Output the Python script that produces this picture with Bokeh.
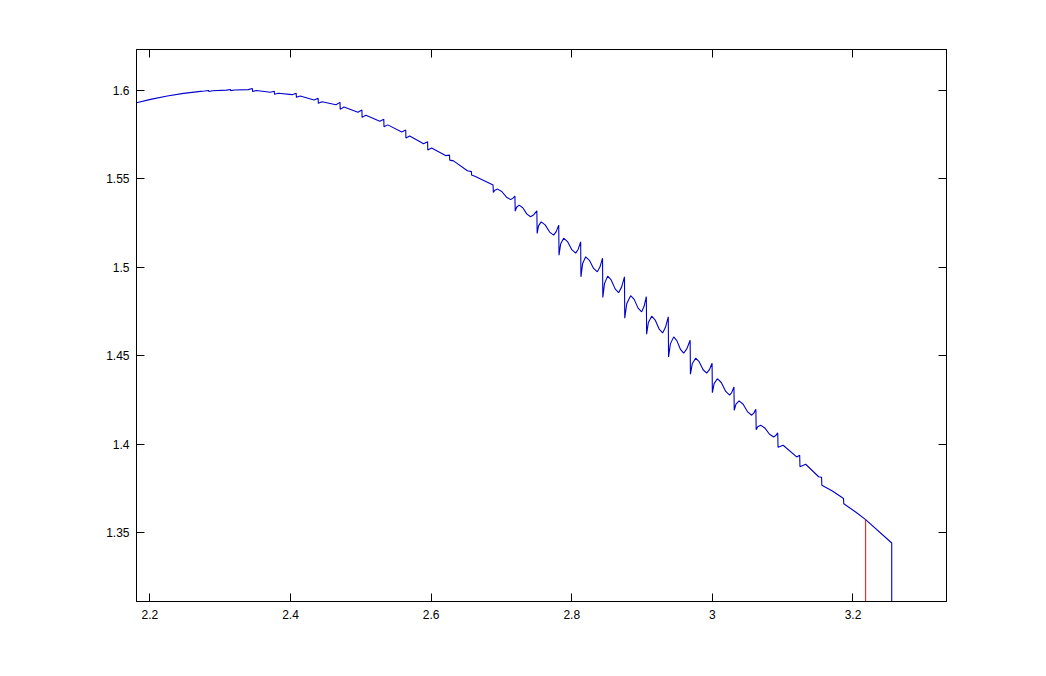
from bokeh.plotting import figure
from bokeh.models import Range1d, LinearAxis, FixedTicker
from bokeh.embed import file_html
from bokeh.resources import INLINE

# ---- data ----
curve_x = [
    2.1811, 2.2010, 2.2248, 2.2479, 2.2721,
    2.2778, 2.2835, 2.2838, 2.2892,
    2.3091, 2.3147, 2.3150, 2.3205,
    2.3401, 2.3458, 2.3461, 2.3515,
    2.3713, 2.3770, 2.3772, 2.3826,
    2.4024, 2.4081, 2.4084, 2.4138,
    2.4336, 2.4393, 2.4396, 2.4449,
    2.4647, 2.4704, 2.4707, 2.4761,
    2.4959, 2.5016, 2.5018, 2.5073,
    2.5270, 2.5327, 2.5330, 2.5384,
    2.5582, 2.5639, 2.5642, 2.5696,
    2.5893, 2.5950, 2.5953, 2.6007,
    2.6205, 2.6262, 2.6265, 2.6319,
    2.6516, 2.6573, 2.6576, 2.6630,
    2.6881, 2.6885, 2.6906, 2.6946, 2.7005, 2.7072, 2.7131, 2.7162,
    2.7192, 2.7196, 2.7216, 2.7252, 2.7304, 2.7363, 2.7415, 2.7460,
    2.7504, 2.7508, 2.7528, 2.7565, 2.7622, 2.7686, 2.7743, 2.7779,
    2.7815, 2.7819, 2.7842, 2.7885, 2.7940, 2.8001, 2.8056, 2.8092,
    2.8127, 2.8131, 2.8154, 2.8198, 2.8251, 2.8311, 2.8364, 2.8401,
    2.8438, 2.8442, 2.8466, 2.8511, 2.8561, 2.8617, 2.8667, 2.8709,
    2.8750, 2.8754, 2.8783, 2.8838, 2.8888, 2.8944, 2.8994, 2.9028,
    2.9061, 2.9065, 2.9090, 2.9137, 2.9187, 2.9243, 2.9293, 2.9333,
    2.9373, 2.9377, 2.9403, 2.9450, 2.9495, 2.9547, 2.9592, 2.9638,
    2.9684, 2.9688, 2.9714, 2.9762, 2.9812, 2.9869, 2.9919, 2.9958,
    2.9996, 3.0000, 3.0025, 3.0071, 3.0127, 3.0190, 3.0246, 3.0277,
    3.0307, 3.0311, 3.0336, 3.0381, 3.0438, 3.0502, 3.0559, 3.0589,
    3.0619, 3.0623, 3.0645, 3.0687, 3.0746, 3.0813, 3.0872, 3.0901,
    3.0930, 3.0934, 3.1007, 3.1199,
    3.1242, 3.1246, 3.1327, 3.1512,
    3.1553, 3.1557, 3.1707, 3.1861,
    3.1865, 3.1869, 3.2038, 3.2180,
    3.2551, 3.2551,
]
curve_y = [
    1.59282, 1.59475, 1.59661, 1.59814, 1.59927,
    1.59949, 1.59977, 1.59921, 1.59960,
    1.59994, 1.60028, 1.59966, 1.60000,
    1.60023, 1.60085, 1.59915, 1.59977,
    1.59876, 1.59932, 1.59763, 1.59819,
    1.59740, 1.59814, 1.59588, 1.59661,
    1.59441, 1.59531, 1.59249, 1.59339,
    1.59175, 1.59305, 1.58910, 1.59040,
    1.58746, 1.58870, 1.58458, 1.58576,
    1.58237, 1.58345, 1.57927, 1.58034,
    1.57627, 1.57740, 1.57288, 1.57401,
    1.56972, 1.57079, 1.56610, 1.56723,
    1.56299, 1.56328, 1.56045, 1.56000,
    1.55441, 1.55396, 1.55198, 1.55124,
    1.54633, 1.54220, 1.54342, 1.54407, 1.54271, 1.53950, 1.53814, 1.53883,
    1.54011, 1.53164, 1.53384, 1.53503, 1.53351, 1.52994, 1.52842, 1.52961,
    1.53181, 1.51904, 1.52330, 1.52559, 1.52386, 1.51981, 1.51808, 1.52006,
    1.52373, 1.50678, 1.51302, 1.51638, 1.51443, 1.50986, 1.50791, 1.51014,
    1.51429, 1.49452, 1.50187, 1.50582, 1.50387, 1.49929, 1.49734, 1.50005,
    1.50508, 1.48288, 1.49071, 1.49492, 1.49277, 1.48774, 1.48559, 1.48872,
    1.49452, 1.47119, 1.47945, 1.48390, 1.48179, 1.47685, 1.47474, 1.47775,
    1.48333, 1.46215, 1.46876, 1.47232, 1.47015, 1.46505, 1.46288, 1.46604,
    1.47192, 1.44932, 1.45667, 1.46062, 1.45850, 1.45353, 1.45141, 1.45398,
    1.45876, 1.43955, 1.44543, 1.44859, 1.44664, 1.44206, 1.44011, 1.44209,
    1.44576, 1.42910, 1.43424, 1.43700, 1.43486, 1.42982, 1.42768, 1.42932,
    1.43237, 1.41921, 1.42262, 1.42446, 1.42260, 1.41824, 1.41638, 1.41757,
    1.41977, 1.40819, 1.40984, 1.41073, 1.40921, 1.40564, 1.40412, 1.40491,
    1.40638, 1.39831, 1.39944, 1.39282,
    1.39378, 1.38729, 1.38870, 1.38164,
    1.38136, 1.37684, 1.37362, 1.36949,
    1.36949, 1.36638, 1.36175, 1.35746,
    1.34424, 1.30,
]
marker_x = [3.2180, 3.2180]
marker_y = [1.35746, 1.30]

x_ticks = [2.2, 2.4, 2.6, 2.8, 3.0, 3.2]
x_tick_labels = ["2.2", "2.4", "2.6", "2.8", "3", "3.2"]
y_ticks = [1.35, 1.40, 1.45, 1.50, 1.55, 1.60]
y_tick_labels = ["1.35", "1.4", "1.45", "1.5", "1.55", "1.6"]

FONT = "Liberation Sans"

p = figure(
    frame_width=810, frame_height=552,
    min_border_left=136, min_border_right=84, min_border_top=49, min_border_bottom=59,
    x_range=Range1d(2.181, 3.333), y_range=Range1d(1.3112, 1.6229),
    output_backend="svg", toolbar_location=None,
    background_fill_color="white", border_fill_color="white",
)
p.xgrid.visible = False
p.ygrid.visible = False
p.outline_line_color = "black"
p.outline_line_width = 1

p.line(curve_x, curve_y, line_color="#0000cc", line_width=1.1)
p.line(marker_x, marker_y, line_color="#ff0000", line_width=1)


def style_axis(ax, ticks, labels, show_labels):
    ax.ticker = FixedTicker(ticks=ticks)
    ax.major_label_overrides = {t: l for t, l in zip(ticks, labels)}
    ax.major_tick_in = 8
    ax.major_tick_out = 0
    ax.minor_tick_in = 0
    ax.minor_tick_out = 0
    ax.major_tick_line_color = "black"
    ax.axis_line_color = "black"
    ax.major_label_text_font = FONT
    ax.major_label_text_font_size = "12px"
    ax.major_label_text_color = "black" if show_labels else None


style_axis(p.xaxis[0], x_ticks, x_tick_labels, True)
style_axis(p.yaxis[0], y_ticks, y_tick_labels, True)
p.xaxis[0].major_label_standoff = 8
p.yaxis[0].major_label_standoff = 7

top = LinearAxis()
style_axis(top, x_ticks, x_tick_labels, False)
p.add_layout(top, "above")
right = LinearAxis()
style_axis(right, y_ticks, y_tick_labels, False)
p.add_layout(right, "right")

open("out.html", "w").write(file_html(p, INLINE))
